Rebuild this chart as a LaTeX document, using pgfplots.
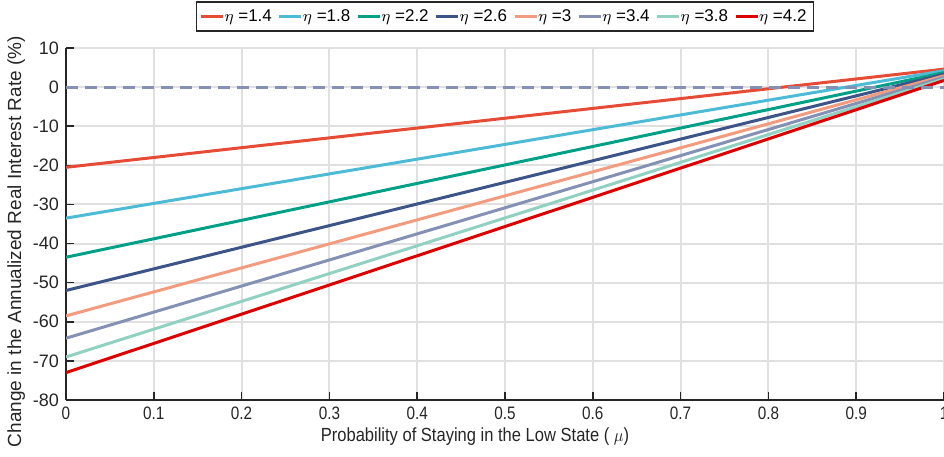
\documentclass[border=0pt]{standalone}
\usepackage{pgfplots}
\pgfplotsset{compat=1.18}
\usepackage{fontspec}
\setmainfont{Liberation Sans}
\definecolor{c1}{HTML}{E64B35}
\definecolor{c2}{HTML}{4DBBD5}
\definecolor{c3}{HTML}{00A087}
\definecolor{c4}{HTML}{3C5488}
\definecolor{c5}{HTML}{F39B7F}
\definecolor{c6}{HTML}{8491B4}
\definecolor{c7}{HTML}{91D1C2}
\definecolor{c8}{HTML}{DC0000}
\definecolor{axc}{HTML}{262626}
\begin{document}
\begin{tikzpicture}
\begin{axis}[
  at={(33pt,28pt)}, anchor=south west,
  scale only axis, width=439pt, height=176pt,
  xmin=0, xmax=1, ymin=-80, ymax=10,
  xtick={0,0.1,...,1}, ytick={-80,-70,...,10},
  xticklabels={0,0.1,0.2,0.3,0.4,0.5,0.6,0.7,0.8,0.9,1},
  axis x line=bottom, axis y line=left,
  axis line style={axc, line width=1.1pt, -},
  tick style={axc, line width=0.8pt}, tick align=inside,
  major tick length=4pt,
  grid=major, grid style={draw=black!12, line width=1pt},
  ticklabel style={font=\fontsize{9}{10}\selectfont, text=axc},
  xticklabel style={xscale=0.85},
  /pgf/number format/assume math mode=true,
  xlabel={Probability of Staying in the Low State ( $\mu$)},
  ylabel={Change in the Annualized Real Interest Rate (\%)},
  label style={font=\fontsize{9.5}{11}\selectfont, text=axc},
  xlabel style={yshift=3pt, xshift=-15pt, xscale=0.87},
  ylabel style={at={(ticklabel cs:0.45)}, yshift=-3pt},
  legend columns=8,
  legend style={at={(0.5,1)}, anchor=south, yshift=8pt, draw=axc, line width=0.9pt,
    font=\fontsize{8.5}{10}\selectfont, inner sep=1.5pt,
    /tikz/every even column/.append style={column sep=1pt},
    /tikz/every odd column/.append style={column sep=-2pt}},
  legend image code/.code={\draw[#1, line width=1.5pt] (0pt,0pt) -- (11pt,0pt);},
  legend cell align=left,
  every axis plot/.append style={line width=1.5pt},
]
\addplot[c1] coordinates {(0,-20.5) (1,4.6)};
\addlegendentry{$\eta$ =1.4}
\addplot[c2] coordinates {(0,-33.5) (1,4.2)};
\addlegendentry{$\eta$ =1.8}
\addplot[c3] coordinates {(0,-43.5) (1,3.7)};
\addlegendentry{$\eta$ =2.2}
\addplot[c4] coordinates {(0,-52) (1,3.3)};
\addlegendentry{$\eta$ =2.6}
\addplot[c5] coordinates {(0,-58.5) (1,2.9)};
\addlegendentry{$\eta$ =3}
\addplot[c6] coordinates {(0,-64.2) (1,2.5)};
\addlegendentry{$\eta$ =3.4}
\addplot[c7] coordinates {(0,-69) (1,2.1)};
\addlegendentry{$\eta$ =3.8}
\addplot[c8] coordinates {(0,-73) (1,1.7)};
\addlegendentry{$\eta$ =4.2}
\addplot[c6, line width=1.5pt, dash pattern=on 6pt off 3.5pt, forget plot] coordinates {(0,0) (1,0)};
\end{axis}
\pgfresetboundingbox
\useasboundingbox (0,0) rectangle (472pt,228pt);
\end{tikzpicture}
\end{document}
